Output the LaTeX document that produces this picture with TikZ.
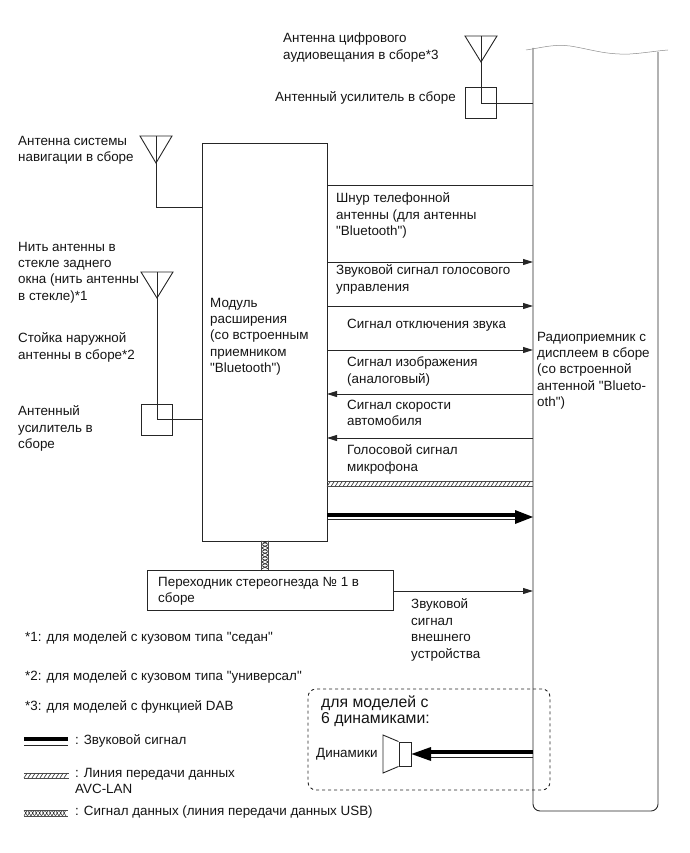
\documentclass[tikz,border=0pt]{standalone}
\usepackage{fontspec}
\newfontfamily\lib{Liberation Sans}
\usetikzlibrary{arrows.meta,calc}
\tikzset{
  txt/.style={anchor=north west,inner sep=0pt,align=left,yshift=-1.7pt,font=\lib\fontsize{13.4}{16.4}\selectfont,text=black!92},
  ln/.style={line width=0.9pt,draw=black!85},
  sig/.style={ln,-{Triangle[length=10pt,width=6pt]}},
}
\newcommand{\antenna}[3]{% apex x, top y, apex y
  \draw[ln,line join=miter] (#1-16,#2) -- (#1+16,#2) -- (#1,#3) -- cycle;}
\newcommand{\avcline}[4]{% x1 x2 y last
  \draw[line width=0.5pt,draw=black!70] (#1,#3-2.6) -- (#2,#3-2.6) (#1,#3+2.6) -- (#2,#3+2.6);
  \foreach \hx in {#4}{\draw[line width=0.7pt,draw=black!75] (\hx,#3+2.4) -- (\hx+3.2,#3-2.4);}}
\newcommand{\usbline}[4]{% x1 x2 y last
  \foreach \hx in {#4}{\draw[line width=0.55pt,draw=black!80] (\hx,#3+2.8) -- (\hx+3.4,#3-2.8) (\hx,#3-2.8) -- (\hx+3.4,#3+2.8);}
  \draw[line width=0.5pt,draw=black!70] (#1,#3-2.8) -- (#2,#3-2.8) (#1,#3+2.8) -- (#2,#3+2.8);}
\begin{document}
\begin{tikzpicture}[x=1pt,y=-1pt]
\useasboundingbox (0,0) rectangle (689,853);
% main blocks
\node[draw=black!85,line width=0.9pt,minimum width=125pt,minimum height=398pt,inner sep=0pt] (module) at (264.5,342) {};
\node[draw=black!85,line width=0.9pt,minimum width=246pt,minimum height=40pt,inner sep=0pt] (adapter) at (270,590) {};
\node[minimum width=125pt,minimum height=763pt,inner sep=0pt] (radio) at (595.5,430) {};
% radio outline
\draw[ln,rounded corners=7pt] (533,48) -- (533,811) -- (658,811) -- (658,52);
\draw[line width=0.5pt,draw=black!45] (526,50) .. controls (545,47) and (555,44) .. (570,46) .. controls (590,49) and (605,55) .. (630,54) .. controls (645,53) and (655,51) .. (668,50);
% DAB antenna
\coordinate (dabtop) at (481,36);
\coordinate (dabcorner) at (481,103);
\antenna{481}{36}{62}
\node[draw=black!85,line width=0.9pt,minimum size=31pt,inner sep=0pt] (dabamp) at (480.5,103) {};
\draw[ln] (dabtop) -- (dabcorner) -- (radio.west |- dabcorner);
% navigation antenna
\coordinate (navtop) at (156,136);
\coordinate (navcorner) at (156,207);
\antenna{156}{136}{163}
\draw[ln] (navtop) -- (navcorner) -- (module.west |- navcorner);
% rear antenna
\coordinate (reartop) at (157,272);
\coordinate (rearcorner) at (157,419);
\antenna{157}{272}{298}
\node[draw=black!85,line width=0.9pt,minimum size=31pt,inner sep=0pt] (reramp) at (156.5,419.5) {};
\draw[ln] (reartop) -- (rearcorner) -- (module.west |- rearcorner);
% signals
\foreach \nm/\yy in {a/185,b/262,c/306,d/350,e/394,f/438,g/484,h/515}{
  \coordinate (m\nm) at (327,\yy);
  \coordinate (r\nm) at (533,\yy);
}
\draw[ln] (ma) -- (ra);
\draw[sig] (mb) -- (rb);
\draw[sig] (mc) -- (rc);
\draw[sig] (md) -- (rd);
\draw[sig] (re) -- (me);
\draw[sig] (rf) -- (mf);
\avcline{327}{533}{484}{327,331,...,529}
% thick audio arrow
\draw[line width=3.4pt,draw=black] (mh) -- (520,515);
\draw[line width=0.9pt,draw=black!85] (327,519.5) -- (520,519.5);
\fill[black] (533,517) -- (515,510) -- (515,524) -- cycle;
% adapter links
\foreach \hy in {541,544.5,...,568}{\draw[line width=0.8pt,draw=black!75] (261.5,\hy) -- (268.5,\hy+3.5) (268.5,\hy) -- (261.5,\hy+3.5);}
\draw[line width=0.5pt,draw=black!70] (261.5,541) -- (261.5,570) (268.5,541) -- (268.5,570);
\coordinate (radaud) at (533,591);
\draw[sig] (adapter.east |- radaud) -- (radaud);
% dashed group
\node[draw=black!85,line width=0.9pt,dashed,rounded corners=8pt,minimum width=242pt,minimum height=101pt,inner sep=0pt] (group) at (429,739.5) {};
% speaker
\node[draw=black!85,line width=0.9pt,minimum width=12pt,minimum height=24pt,inner sep=0pt] (spk) at (405,754) {};
\draw[ln,line join=miter] (spk.north west) -- (383,735) -- (383,773) -- (spk.south west);
\coordinate (spkin) at (533,754);
\draw[line width=3.4pt,draw=black] (spkin |- 0,752) -- (425,752);
\draw[line width=0.9pt,draw=black!85] (spkin |- 0,757) -- (425,757);
\fill[black] (spk.east) -- (431,747) -- (431,761) -- cycle;
% legend lines
\draw[line width=3.2pt] (24,739) -- (68,739);
\draw[line width=0.9pt,draw=black!85] (24,745) -- (68,745);
\avcline{24}{69}{775.5}{24,28,...,65}
\usbline{24}{68}{813}{24,27.5,...,65}
% labels
\node[txt] (t1) at (283,31) {Антенна цифрового\\аудиовещания в сборе*3};
\node[txt] (t2) at (275,90) {Антенный усилитель в сборе};
\node[txt] (t3) at (18,134) {Антенна системы\\навигации в сборе};
\node[txt] (t4) at (18,240) {Нить антенны в\\стекле заднего\\окна (нить антенны\\в стекле)*1};
\node[txt] (t5) at (18,331) {Стойка наружной\\антенны в сборе*2};
\node[txt] (t6) at (18,404) {Антенный\\усилитель в\\сборе};
\node[txt] (t7) at (210,296) {Модуль\\расширения\\(со встроенным\\приемником\\"Bluetooth")};
\node[txt] (t8) at (336,191) {Шнур телефонной\\антенны (для антенны\\"Bluetooth")};
\node[txt] (t9) at (336,263) {Звуковой сигнал голосового\\управления};
\node[txt] (t10) at (347,317) {Сигнал отключения звука};
\node[txt] (t11) at (347,355) {Сигнал изображения\\(аналоговый)};
\node[txt] (t12) at (347,398) {Сигнал скорости\\автомобиля};
\node[txt] (t13) at (347,443) {Голосовой сигнал\\микрофона};
\node[txt] (t14) at (537,330) {Радиоприемник с\\дисплеем в сборе\\(со встроенной\\антенной "Blueto-\\oth")};
\node[txt] (t15) at (158,575) {Переходник стереогнезда № 1 в\\сборе};
\node[txt] (t16) at (411,597) {Звуковой\\сигнал\\внешнего\\устройства};
\node[txt] (t17) at (25,630) {*1: для моделей с кузовом типа "седан"};
\node[txt] (t18) at (25,669) {*2: для моделей с кузовом типа "универсал"};
\node[txt] (t19) at (25,699) {*3: для моделей с функцией DAB};
\node[txt] (t20) at (75,733) {: Звуковой сигнал};
\node[txt] (t21) at (75,766) {: Линия передачи данных\\AVC-LAN};
\node[txt] (t22) at (75,804) {: Сигнал данных (линия передачи данных USB)};
\node[txt,font=\lib\fontsize{15.8}{16.6}\selectfont] (t23) at (321,693.5) {для моделей с\\6 динамиками:};
\node[txt] (t24) at (316,746) {Динамики};
\end{tikzpicture}
\end{document}
